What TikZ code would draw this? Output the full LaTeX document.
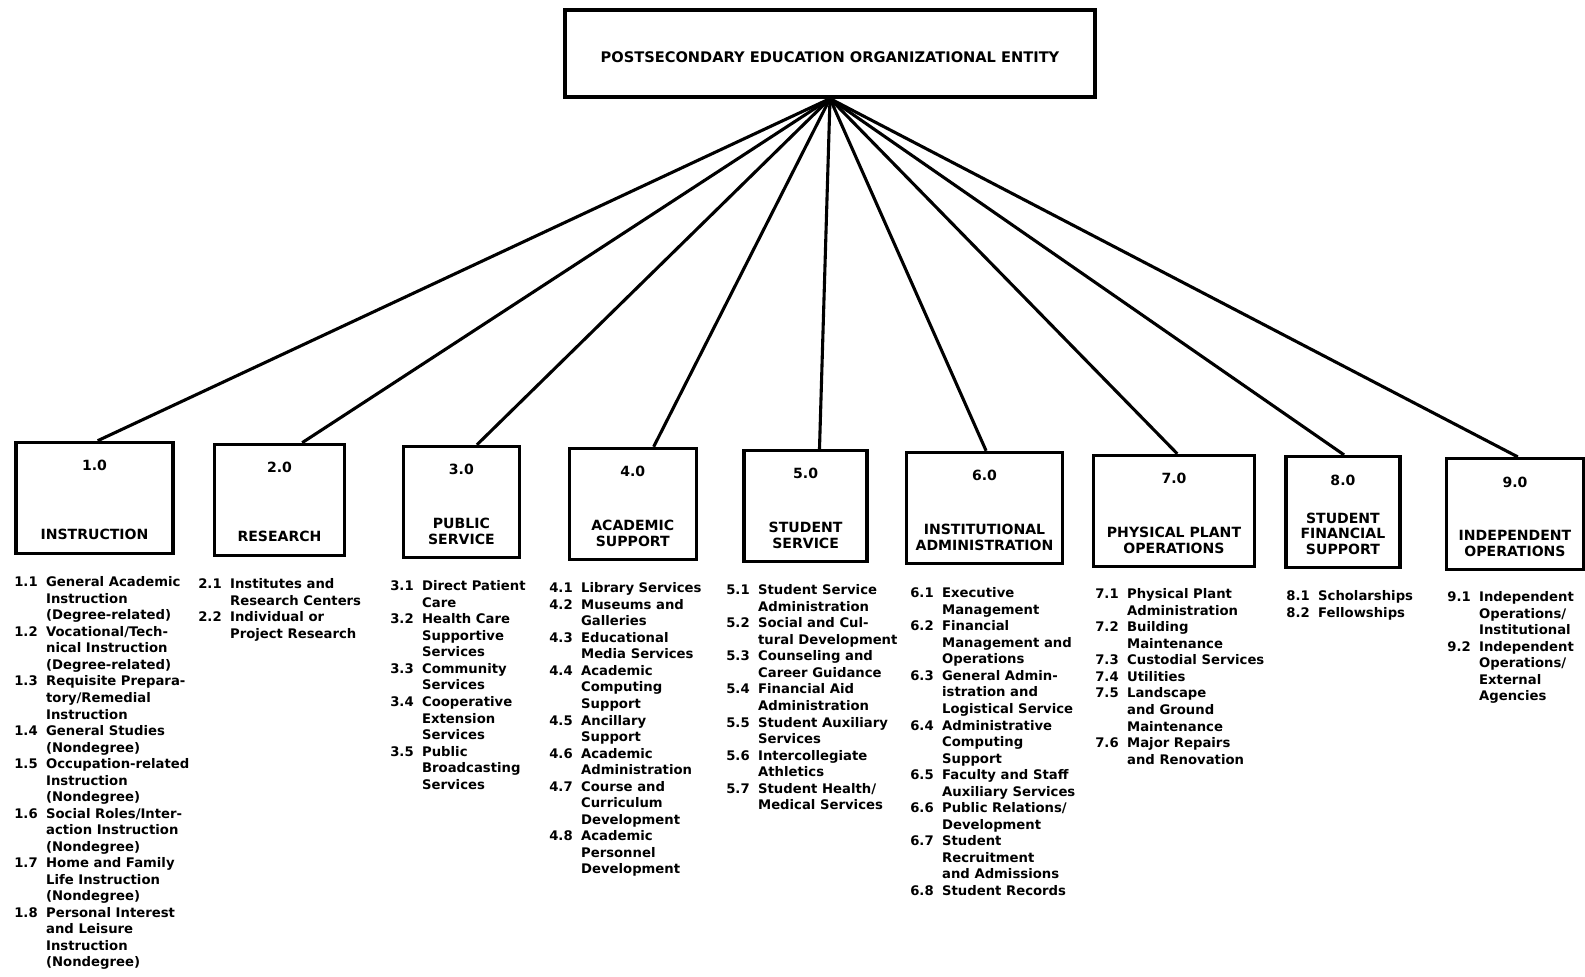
\documentclass[tikz,border=0pt]{standalone}
\usepackage{fontspec}
\setmainfont{DejaVu Sans}
\usepackage{tikz}
\usetikzlibrary{calc}

\def\px{0.25mm}
\tikzset{
  entitybox/.style={draw, line width=2.3pt, minimum width=530*\px, minimum height=87*\px,
    inner sep=0pt, font=\bfseries\fontsize{10.4}{12}\selectfont},
  unitbox/.style={draw, line width=2.3pt, minimum height=111*\px, inner sep=0pt, anchor=north},
  unitnum/.style={inner sep=0pt, font=\bfseries\fontsize{10}{11}\selectfont},
  unitname/.style={inner sep=0pt, anchor=base, font=\bfseries\fontsize{10}{10.8}\selectfont},
  itemlist/.style={inner sep=0pt, anchor=north west, font=\bfseries\fontsize{9.4}{11.75}\selectfont},
  link/.style={line width=2.2pt}
}
\newenvironment{items}{\begin{tabular}{@{}l@{\hspace{6pt}}l@{}}}{\end{tabular}}

\begin{document}
\begin{tikzpicture}[x=\px, y=-\px]
  \useasboundingbox (0,0) rectangle (1585,976);
  \node[entitybox] (entity) at (830,53.5) {};
  \node[inner sep=0pt, font=\bfseries\fontsize{10.4}{12}\selectfont] (entitytext)
    at ($(entity.center)+(0,4)$) {POSTSECONDARY EDUCATION ORGANIZATIONAL ENTITY};
  \foreach \i/\x/\y/\w/\f/\name in {
    1/94.5/440.7/157/0.52/{INSTRUCTION},
    2/279.5/442.7/130/0.67/{RESEARCH},
    3/461.4/444.8/116/0.63/{PUBLIC\\SERVICE},
    4/632.8/446.8/127/0.66/{ACADEMIC\\SUPPORT},
    5/805.6/448.8/123/0.61/{STUDENT\\SERVICE},
    6/984.5/450.8/156/0.51/{INSTITUTIONAL\\ADMINISTRATION},
    7/1174/453.8/161/0.52/{PHYSICAL PLANT\\OPERATIONS},
    8/1342.9/454.9/114/0.51/{STUDENT\\FINANCIAL\\SUPPORT},
    9/1515/456.9/137/0.52/{INDEPENDENT\\OPERATIONS}}
  {
    \node[unitbox, minimum width=\w*\px] (unit\i) at (\x,\y) {};
    \node[unitnum] (unit\i num) at ($(unit\i.north)+(0,25)$) {\i.0};
    \node[unitname] (unit\i name) at ($(unit\i.south)+(0,-15)$)
      {\begin{tabular}[b]{@{}c@{}}\name\end{tabular}};
    \draw[link]
      (entity.south) -- ($(unit\i.north west)!\f!(unit\i.north east)$)
    ;
  }

  \node[itemlist] (list1) at (14,575) {\begin{items}
    1.1 & General Academic\\ & Instruction\\ & (Degree-related)\\
    1.2 & Vocational/Tech-\\ & nical Instruction\\ & (Degree-related)\\
    1.3 & Requisite Prepara-\\ & tory/Remedial\\ & Instruction\\
    1.4 & General Studies\\ & (Nondegree)\\
    1.5 & Occupation-related\\ & Instruction\\ & (Nondegree)\\
    1.6 & Social Roles/Inter-\\ & action Instruction\\ & (Nondegree)\\
    1.7 & Home and Family\\ & Life Instruction\\ & (Nondegree)\\
    1.8 & Personal Interest\\ & and Leisure\\ & Instruction\\ & (Nondegree)
  \end{items}};
  \node[itemlist] (list2) at (198,577) {\begin{items}
    2.1 & Institutes and\\ & Research Centers\\
    2.2 & Individual or\\ & Project Research
  \end{items}};
  \node[itemlist] (list3) at (390,579) {\begin{items}
    3.1 & Direct Patient\\ & Care\\
    3.2 & Health Care\\ & Supportive\\ & Services\\
    3.3 & Community\\ & Services\\
    3.4 & Cooperative\\ & Extension\\ & Services\\
    3.5 & Public\\ & Broadcasting\\ & Services
  \end{items}};
  \node[itemlist] (list4) at (549,581) {\begin{items}
    4.1 & Library Services\\
    4.2 & Museums and\\ & Galleries\\
    4.3 & Educational\\ & Media Services\\
    4.4 & Academic\\ & Computing\\ & Support\\
    4.5 & Ancillary\\ & Support\\
    4.6 & Academic\\ & Administration\\
    4.7 & Course and\\ & Curriculum\\ & Development\\
    4.8 & Academic\\ & Personnel\\ & Development
  \end{items}};
  \node[itemlist] (list5) at (726,583) {\begin{items}
    5.1 & Student Service\\ & Administration\\
    5.2 & Social and Cul-\\ & tural Development\\
    5.3 & Counseling and\\ & Career Guidance\\
    5.4 & Financial Aid\\ & Administration\\
    5.5 & Student Auxiliary\\ & Services\\
    5.6 & Intercollegiate\\ & Athletics\\
    5.7 & Student Health/\\ & Medical Services
  \end{items}};
  \node[itemlist] (list6) at (910,586) {\begin{items}
    6.1 & Executive\\ & Management\\
    6.2 & Financial\\ & Management and\\ & Operations\\
    6.3 & General Admin-\\ & istration and\\ & Logistical Service\\
    6.4 & Administrative\\ & Computing\\ & Support\\
    6.5 & Faculty and Staff\\ & Auxiliary Services\\
    6.6 & Public Relations/\\ & Development\\
    6.7 & Student\\ & Recruitment\\ & and Admissions\\
    6.8 & Student Records
  \end{items}};
  \node[itemlist] (list7) at (1095,587) {\begin{items}
    7.1 & Physical Plant\\ & Administration\\
    7.2 & Building\\ & Maintenance\\
    7.3 & Custodial Services\\
    7.4 & Utilities\\
    7.5 & Landscape\\ & and Ground\\ & Maintenance\\
    7.6 & Major Repairs\\ & and Renovation
  \end{items}};
  \node[itemlist] (list8) at (1286,589) {\begin{items}
    8.1 & Scholarships\\
    8.2 & Fellowships
  \end{items}};
  \node[itemlist] (list9) at (1447,590) {\begin{items}
    9.1 & Independent\\ & Operations/\\ & Institutional\\
    9.2 & Independent\\ & Operations/\\ & External\\ & Agencies
  \end{items}};
\end{tikzpicture}
\end{document}
